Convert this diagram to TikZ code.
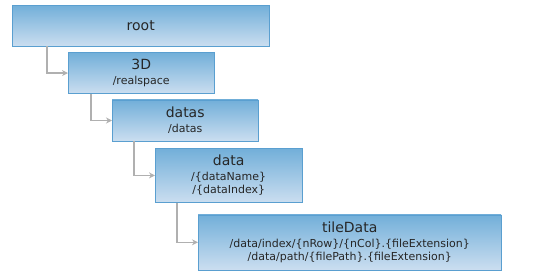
\documentclass[tikz,border=0pt]{standalone}
\usepackage{fontspec}
\setmainfont{DejaVu Sans}
\usetikzlibrary{arrows.meta,positioning}
\definecolor{boxtop}{HTML}{72AFD9}
\definecolor{boxbot}{HTML}{CBDEF0}
\definecolor{boxline}{HTML}{5A9FD0}
\definecolor{linkgray}{HTML}{B0B0B0}
\tikzset{
  levelbox/.style={rectangle,draw=boxline,top color=boxtop,bottom color=boxbot,minimum height=41pt,align=center,inner sep=0pt,text=black!85,font=\fontsize{11}{13}\selectfont},
  link/.style={-{Stealth[length=6pt,width=6pt]},line width=1.3pt,draw=linkgray}
}
\newcommand{\headtxt}[1]{{\fontsize{14}{16}\selectfont #1}}

\begin{document}
\begin{tikzpicture}
  \useasboundingbox (0,0) rectangle (558pt,-272pt);
  \node[levelbox,minimum width=257pt,anchor=north west] (root) at (12pt,-5pt) {\headtxt{root}};
  \node[levelbox,minimum width=146pt,below right=6pt and 56pt of root.south west] (threed) {\headtxt{3D}\\[2pt]/realspace};
  \node[levelbox,minimum width=146pt,below right=6pt and 44pt of threed.south west] (datas) {\headtxt{datas}\\[2pt]/datas};
  \node[levelbox,minimum width=147pt,minimum height=54pt,below right=7pt and 43pt of datas.south west] (data) {\headtxt{data}\\[2pt]/\{dataName\}\\/\{dataIndex\}};
  \node[levelbox,minimum width=303pt,minimum height=55pt,below right=12pt and 43pt of data.south west] (tiledata) {\headtxt{tileData}\\[2pt]/data/index/\{nRow\}/\{nCol\}.\{fileExtension\}\\/data/path/\{filePath\}.\{fileExtension\}};

  \draw[link] ([xshift=-21pt]threed.west |- root.south) |- (threed.west);
  \draw[link] ([xshift=-21pt]datas.west |- threed.south) |- (datas.west);
  \draw[link] ([xshift=-21pt]data.west |- datas.south) |- (data.west);
  \draw[link] ([xshift=-21pt]tiledata.west |- data.south) |- (tiledata.west);
\end{tikzpicture}
\end{document}
